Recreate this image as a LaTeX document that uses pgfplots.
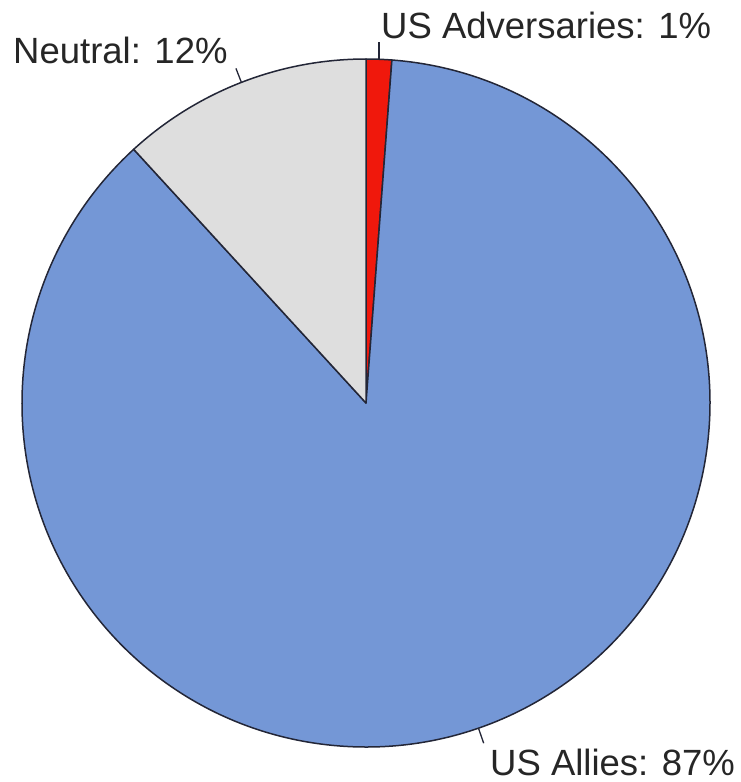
\documentclass[border=0pt]{standalone}
\usepackage{pgfplots}
\pgfplotsset{compat=1.18}
\usepackage{fontspec}
\setmainfont{Liberation Sans}
\definecolor{allies}{RGB}{116,151,214}
\definecolor{neutral}{RGB}{222,222,222}
\definecolor{advers}{RGB}{240,24,12}
\definecolor{edge}{RGB}{35,38,55}
\definecolor{txt}{RGB}{38,38,38}
\begin{document}
\begin{tikzpicture}
% shares in percent
\def\vAdv{1.2}
\def\vAll{87.0}
\def\vNeu{11.8}
\pgfmathsetmacro{\aA}{90}
\pgfmathsetmacro{\aB}{\aA-3.6*\vAdv}
\pgfmathsetmacro{\aC}{\aB-3.6*\vAll}
\pgfmathsetmacro{\aD}{\aC-3.6*\vNeu}
\pgfmathsetmacro{\mA}{(\aA+\aB)/2}
\pgfmathsetmacro{\mB}{(\aB+\aC)/2}
\pgfmathsetmacro{\mC}{(\aC+\aD)/2}
\useasboundingbox (0,0) rectangle (741pt,782pt);
\begin{axis}[
  at={(0,0)}, anchor=south west,
  scale only axis, width=741pt, height=782pt,
  xmin=0, xmax=741, ymin=0, ymax=782, y dir=reverse,
  hide axis, clip=false]
\filldraw[fill=advers, draw=edge, line width=1.5pt, line join=round]
  (axis cs:366,403) -- ++(\aA:344pt) arc[start angle=\aA, end angle=\aB, radius=344pt] -- cycle;
\filldraw[fill=allies, draw=edge, line width=1.5pt, line join=round]
  (axis cs:366,403) -- ++(\aB:344pt) arc[start angle=\aB, end angle=\aC, radius=344pt] -- cycle;
\filldraw[fill=neutral, draw=edge, line width=1.5pt, line join=round]
  (axis cs:366,403) -- ++(\aC:344pt) arc[start angle=\aC, end angle=\aD, radius=344pt] -- cycle;
% leader lines
\draw[edge, line width=1.3pt] (axis cs:366,403) ++(\mA:344pt) -- ++(90:17pt);
\draw[edge, line width=1.3pt] (axis cs:366,403) ++(\mC:344pt) -- ++(\mC:15pt);
\draw[edge, line width=1.3pt] (axis cs:366,403) ++(\mB:344pt) -- ++(\mB:16pt);
% labels
\node[anchor=base west, inner sep=0pt, text=txt, font=\fontsize{36.5}{40}\selectfont] at (axis cs:13,63) {Neutral: 12\%};
\node[anchor=base west, inner sep=0pt, text=txt, font=\fontsize{36.5}{40}\selectfont] at (axis cs:381,38) {US Adversaries: 1\%};
\node[anchor=base west, inner sep=0pt, text=txt, font=\fontsize{36.5}{40}\selectfont] at (axis cs:490,775) {US Allies: 87\%};
\end{axis}
\end{tikzpicture}
\end{document}
